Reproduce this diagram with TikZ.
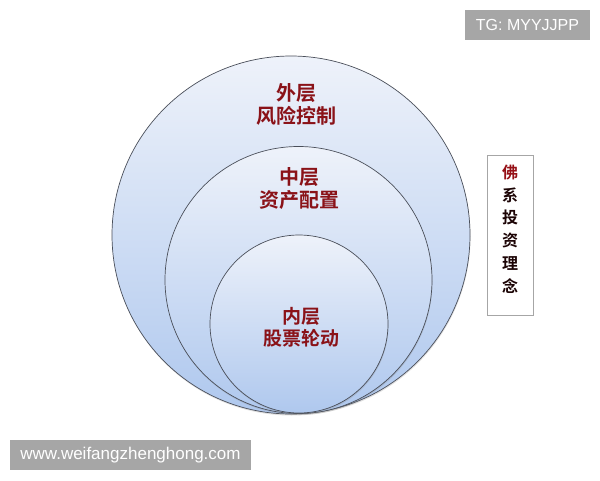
\documentclass[tikz,border=0pt]{standalone}
\usepackage{fontspec}
\setmainfont{Liberation Sans}
\newfontfamily\cjk{Noto Sans CJK SC}[BoldFont={* Bold}]
\usetikzlibrary{shadows}
\definecolor{lblred}{HTML}{8A1218}
\definecolor{wmgray}{HTML}{A6A6A6}
\definecolor{cirtop}{HTML}{EEF2FA}
\definecolor{cirbot}{HTML}{AFC8EE}
\definecolor{cirline}{HTML}{4A4F5A}
\tikzset{
  layer/.style={circle, draw=cirline, line width=0.7pt, top color=cirtop, bottom color=cirbot, inner sep=0pt, drop shadow={shadow xshift=0.5pt, shadow yshift=-1.5pt, opacity=0.25}},
  lbl/.style={text=lblred, font=\cjk\bfseries\fontsize{20}{23}\selectfont, align=center, inner sep=0pt},
  wm/.style={fill=wmgray, text=white, inner sep=0pt},
  sidebox/.style={draw=gray!70, fill=white, minimum width=46pt, minimum height=160pt, inner sep=0pt, drop shadow={shadow xshift=1pt, shadow yshift=-1pt, opacity=0.2}}
}
\begin{document}
\begin{tikzpicture}[x=1pt,y=-1pt]
\useasboundingbox (0,0) rectangle (600,480);
\fill[white] (0,0) rectangle (600,480);
\node[layer, minimum size=358pt] (outer) at (291,235) {};
\node[layer, minimum size=267pt] (middle) at (298.5,280) {};
\node[layer, minimum size=178pt] (inner) at (299,324) {};
\node[lbl] (outerlbl) at (296,104) {外层\\风险控制};
\node[lbl] (middlelbl) at (299,189) {中层\\资产配置};
\node[lbl, font=\cjk\bfseries\fontsize{19}{22}\selectfont] (innerlbl) at (301,327) {内层\\股票轮动};
\node[sidebox] (side) at (510,235) {};
\node[font=\cjk\bfseries\fontsize{16}{22.8}\selectfont, align=center, inner sep=0pt, text=black!80!lblred] (sidetxt) at (510,229) {\textcolor{lblred!90!red}{佛}\\系\\投\\资\\理\\念};
\node[wm, minimum width=125pt, minimum height=30pt, font=\fontsize{16}{19}\selectfont] (tg) at (527.5,25) {TG: MYYJJPP};
\node[wm, minimum width=241pt, minimum height=30pt, font=\fontsize{17}{20}\selectfont] (web) at (130.5,455) {www.weifangzhenghong.com};
\end{tikzpicture}
\end{document}
